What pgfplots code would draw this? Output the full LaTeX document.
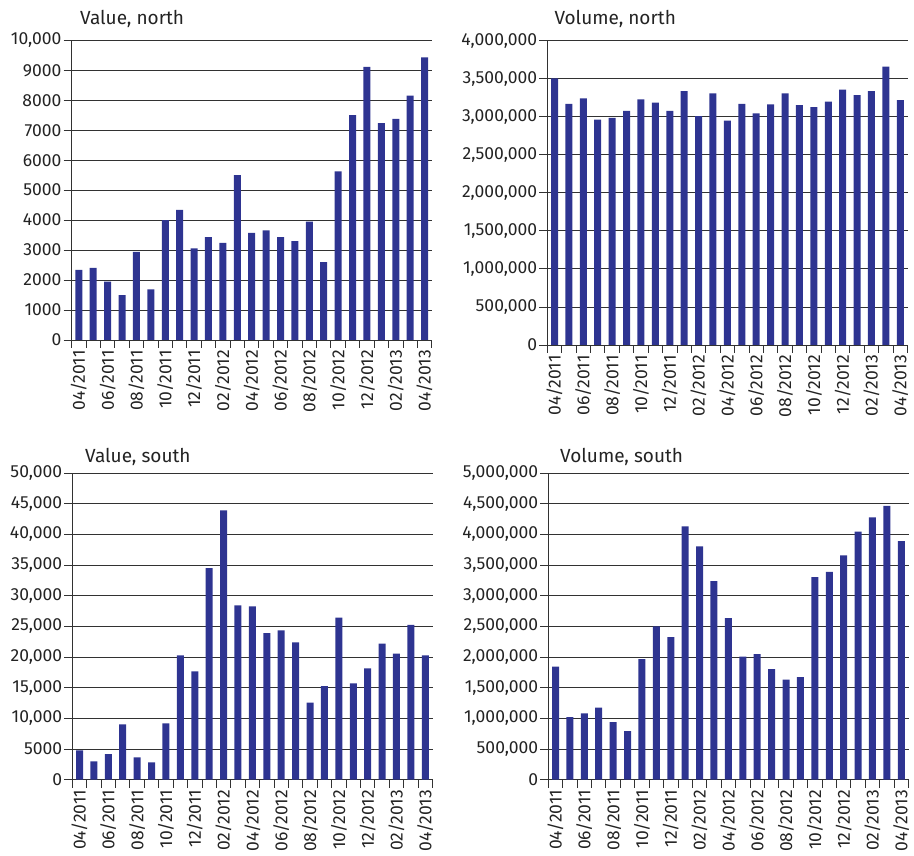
\documentclass[border=0pt]{standalone}
\usepackage{pgfplots}
\pgfplotsset{compat=1.18}
\usepackage{fontspec}
\setmainfont{Fira Sans}
\definecolor{barblue}{RGB}{46,52,145}
\definecolor{txt}{RGB}{35,35,35}
\definecolor{gridc}{RGB}{50,50,50}
\pgfplotsset{panel/.style={
  scale only axis, width=360.2pt,
  xmin=-0.5, xmax=24.5, ymin=0,
  scaled y ticks=false,
  axis x line*=bottom, axis y line*=left,
  axis line style={color=gridc, line width=0.9pt},
  tick align=outside,
  major tick length=8pt, minor tick length=8pt,
  xtick={0,2,...,24},
  xticklabels={04/2011,06/2011,08/2011,10/2011,12/2011,02/2012,04/2012,06/2012,08/2012,10/2012,12/2012,02/2013,04/2013},
  x tick label style={rotate=90, anchor=east, font=\fontsize{17.5}{17.5}\selectfont, text=txt, inner sep=2pt},
  y tick label style={font=\fontsize{17.5}{17.5}\selectfont, text=txt, inner sep=2pt},
  major x tick style={draw=none},
  minor xtick={-0.5,0.5,...,24.5},
  minor x tick style={color=gridc, line width=0.9pt},
  major y tick style={color=gridc, line width=0.9pt},
  ymajorgrids, grid style={color=gridc, line width=0.9pt},
  ybar, bar width=7pt,
  clip=false,
}}
\begin{document}
\begin{tikzpicture}
\useasboundingbox (0,0) rectangle (914pt,856pt);
% Value, north
\begin{axis}[panel, at={(71.6pt,516pt)}, anchor=south west, height=299.7pt,
  ymax=10000, ytick={0,1000,2000,3000,4000,5000,6000,7000,8000,9000,10000},
  yticklabels={0,1000,2000,3000,4000,5000,6000,7000,8000,9000,{10,000}}]
\addplot[fill=barblue, draw=none] coordinates {(0,2340)(1,2410)(2,1950)(3,1500)(4,2940)(5,1690)(6,4000)(7,4340)(8,3060)(9,3430)(10,3240)(11,5500)(12,3570)(13,3660)(14,3430)(15,3300)(16,3950)(17,2600)(18,5630)(19,7500)(20,9110)(21,7240)(22,7380)(23,8150)(24,9430)};
\end{axis}
% Volume, north
\begin{axis}[panel, at={(547.3pt,511pt)}, anchor=south west, height=304.3pt,
  ymax=4000000, ytick={0,500000,1000000,1500000,2000000,2500000,3000000,3500000,4000000},
  yticklabels={0,{500,000},{1,000,000},{1,500,000},{2,000,000},{2,500,000},{3,000,000},{3,500,000},{4,000,000}}]
\addplot[fill=barblue, draw=none] coordinates {(0,3505000)(1,3168000)(2,3242000)(3,2962000)(4,2984000)(5,3076000)(6,3229000)(7,3185000)(8,3076000)(9,3338000)(10,3010000)(11,3308000)(12,2949000)(13,3168000)(14,3045000)(15,3163000)(16,3308000)(17,3154000)(18,3128000)(19,3198000)(20,3356000)(21,3286000)(22,3338000)(23,3658000)(24,3220000)};
\end{axis}
% Value, south
\begin{axis}[panel, at={(72.3pt,76.3pt)}, anchor=south west, height=306.7pt,
  ymax=50000, ytick={0,5000,10000,15000,20000,25000,30000,35000,40000,45000,50000},
  yticklabels={0,5000,{10,000},{15,000},{20,000},{25,000},{30,000},{35,000},{40,000},{45,000},{50,000}}]
\addplot[fill=barblue, draw=none] coordinates {(0,4780)(1,2990)(2,4180)(3,9020)(4,3640)(5,2830)(6,9180)(7,20270)(8,17660)(9,34510)(10,43910)(11,28420)(12,28260)(13,23910)(14,24350)(15,22390)(16,12550)(17,15270)(18,26410)(19,15710)(20,18150)(21,22170)(22,20540)(23,25220)(24,20270)};
\end{axis}
% Volume, south
\begin{axis}[panel, at={(548.3pt,76.3pt)}, anchor=south west, height=306.7pt,
  ymax=5000000, ytick={0,500000,1000000,1500000,2000000,2500000,3000000,3500000,4000000,4500000,5000000},
  yticklabels={0,{500,000},{1,000,000},{1,500,000},{2,000,000},{2,500,000},{3,000,000},{3,500,000},{4,000,000},{4,500,000},{5,000,000}}]
\addplot[fill=barblue, draw=none] coordinates {(0,1842000)(1,1022000)(2,1082000)(3,1174000)(4,940000)(5,793000)(6,1967000)(7,2500000)(8,2326000)(9,4130000)(10,3804000)(11,3239000)(12,2636000)(13,2005000)(14,2049000)(15,1804000)(16,1630000)(17,1674000)(18,3304000)(19,3386000)(20,3658000)(21,4043000)(22,4277000)(23,4462000)(24,3891000)};
\end{axis}
\node[anchor=base west, font=\fontsize{19}{19}\selectfont, text=txt, inner sep=0pt] at (80pt,831pt) {Value, north};
\node[anchor=base west, font=\fontsize{19}{19}\selectfont, text=txt, inner sep=0pt] at (554.3pt,831pt) {Volume, north};
\node[anchor=base west, font=\fontsize{19}{19}\selectfont, text=txt, inner sep=0pt] at (85pt,393.7pt) {Value, south};
\node[anchor=base west, font=\fontsize{19}{19}\selectfont, text=txt, inner sep=0pt] at (560pt,393.7pt) {Volume, south};
\end{tikzpicture}
\end{document}
